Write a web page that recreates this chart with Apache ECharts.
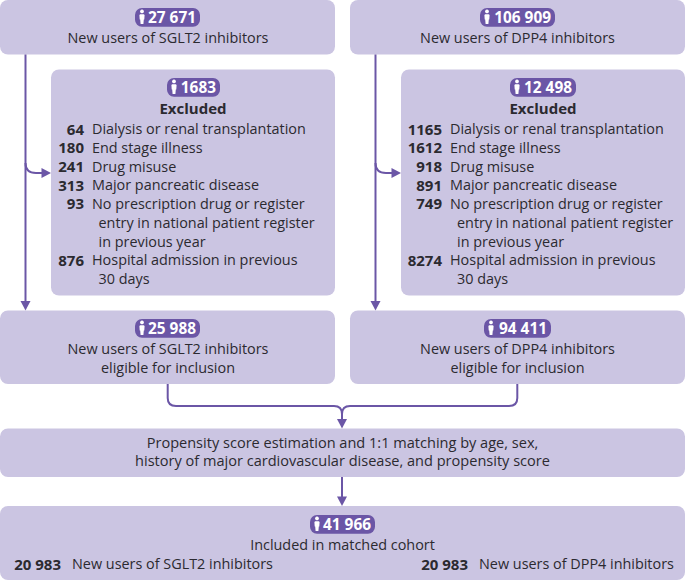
<!DOCTYPE html>
<html><head><meta charset="utf-8">
<style>html,body{margin:0;padding:0;background:#fff}#c{width:685px;height:580px}</style>
<script src="https://cdn.jsdelivr.net/npm/echarts@6/dist/echarts.min.js"></script>
</head><body><div id="c"></div>
<script>
// ---- content ----
const pillCounts = ['27 671','1683','25 988','106 909','12 498','94 411','41 966'];
const headings = ['New users of SGLT2 inhibitors','New users of DPP4 inhibitors'];
const eligibleLine = 'eligible for inclusion';
const excludedTitle = 'Excluded';
const sgltExcluded = ['64','180','241','313','93','876'];
const dppExcluded = ['1165','1612','918','891','749','8274'];
const exclusionReasons = ['Dialysis or renal transplantation','End stage illness','Drug misuse','Major pancreatic disease','No prescription drug or register','Hospital admission in previous'];
const reasonContinuations = ['entry in national patient register','in previous year','30 days'];
const propensityLines = ['Propensity score estimation and 1:1 matching by age, sex,','history of major cardiovascular disease, and propensity score'];
const cohortLine = 'Included in matched cohort';
const matchedCounts = ['20 983','20 983'];

// ---- layout ----
const FONT = '"Open Sans"', PURPLE = '#6b56a6', BOX = '#cbc5e2', INK = '#2b2a30', FS = 14.4, BS = 15;
const boxes = [[0,0,335,54.5],[350,0,685,54.5],[51,69.5,335,295.5],[401,69.5,685,295.5],
  [0,310.5,335,384],[350,310.5,685,384],[0,428.5,685,477],[0,506,685,580]];
const pills = [[135,200,8],[167,220,78],[135,200,319],[480,555,8],[510,576,78],[484,551,319],[310,375,515]];
const rowY = [128.7,147.4,166.2,184.8,203.4,259.8], contY = [222.2,241,278.6];
const texts = [];
const T = (s,x,y,al,b,col,fs) => texts.push({s,x,y,al,b,col,fs});
T(headings[0],168,37.5,'center'); T(headings[1],517.5,37.5,'center');
T(headings[0],168,348,'center'); T(eligibleLine,168,367,'center');
T(headings[1],517.5,348,'center'); T(eligibleLine,517.5,367,'center');
T(excludedTitle,193,107.5,'center',1); T(excludedTitle,543,107.5,'center',1);
[[sgltExcluded,84,92,98.5],[dppExcluded,442,450,457]].forEach(([vals,nx,tx,ix])=>{
  vals.forEach((v,i)=>{T(v,nx,rowY[i],'right',1);T(exclusionReasons[i],tx,rowY[i],'left');});
  reasonContinuations.forEach((r,i)=>T(r,ix,contY[i],'left'));
});
T(propensityLines[0],342.5,441.5,'center',0,null,14.55); T(propensityLines[1],342.5,460,'center',0,null,14.55);
T(cohortLine,342.5,544.5,'center');
T(matchedCounts[0],61,563.5,'right',1); T(headings[0],72,563.5,'left');
T(matchedCounts[1],468,563.5,'right',1); T(headings[1],479,563.5,'left');
pills.forEach((p,i)=>T(pillCounts[i],p[1]-4,p[2]+9,'right',2,'#fff'));

// connector segments: straight [x1,y1,x2,y2] or curved [x1,y1,cx,cy,x2,y2]
const paths = [
 [25.5,54.5,25.5,303],[25.5,163,25.5,173,36,173],[36,173,44,173],
 [375.5,54.5,375.5,303],[375.5,163,375.5,173,386,173],[386,173,394,173],
 [167.7,384,167.7,398],[167.7,398,167.7,406,176,406],[176,406,334,406],[334,406,342,406,342,414],
 [517.3,384,517.3,398],[517.3,398,517.3,406,509,406],[509,406,350,406],[350,406,342,406,342,414],
 [342,414,342,420],[342,477,342,499]
];
const heads = [[25.5,310.5,'d'],[375.5,310.5,'d'],[342,428.5,'d'],[342,506,'d'],[51,173,'r'],[401,173,'r']];

const sr = (data, render, z) => ({type:'custom',coordinateSystem:'cartesian2d',data:data.map((d,i)=>[i,0]),
  renderItem:render,clip:false,silent:true,z,animation:false,encode:{x:0,y:1}});

const chart = echarts.init(document.getElementById('c'),null,{renderer:'svg'});
chart.setOption({
 animation:false,
 grid:{left:0,right:0,top:0,bottom:0},
 xAxis:{type:'value',min:0,max:685,show:false},
 yAxis:{type:'value',min:0,max:580,inverse:true,show:false},
 series:[
  sr(boxes,(p,api)=>{const b=boxes[p.dataIndex],a=api.coord([b[0],b[1]]),c=api.coord([b[2],b[3]]);
    return {type:'rect',shape:{x:a[0],y:a[1],width:c[0]-a[0],height:c[1]-a[1],r:8},style:{fill:BOX}};},1),
  sr(paths,(p,api)=>{const s=paths[p.dataIndex],style={fill:'none',stroke:PURPLE,lineWidth:2};
    const a=api.coord([s[0],s[1]]);
    if(s.length===4){const b=api.coord([s[2],s[3]]);
      return {type:'line',shape:{x1:a[0],y1:a[1],x2:b[0],y2:b[1]},style};}
    const c=api.coord([s[2],s[3]]),b=api.coord([s[4],s[5]]);
    return {type:'bezierCurve',shape:{x1:a[0],y1:a[1],cpx1:c[0],cpy1:c[1],x2:b[0],y2:b[1]},style};},2),
  sr(heads,(p,api)=>{const h=heads[p.dataIndex],t=api.coord([h[0],h[1]]);
    const pts=h[2]==='d'?[[t[0],t[1]],[t[0]-5,t[1]-9.5],[t[0]+5,t[1]-9.5]]:[[t[0],t[1]],[t[0]-9.5,t[1]-5],[t[0]-9.5,t[1]+5]];
    return {type:'polygon',shape:{points:pts},style:{fill:PURPLE}};},3),
  sr(pills,(p,api)=>{const b=pills[p.dataIndex],a=api.coord([b[0],b[2]]),c=api.coord([b[1],b[2]+18.7]),ix=a[0]+7,y=a[1];
    return {type:'group',children:[
      {type:'rect',shape:{x:a[0],y:a[1],width:c[0]-a[0],height:c[1]-a[1],r:7},style:{fill:PURPLE}},
      {type:'circle',shape:{cx:ix,cy:y+3.4,r:1.9},style:{fill:'#fff'}},
      {type:'polygon',shape:{points:[[ix-2.6,y+7],[ix-1.8,y+6.2],[ix+1.8,y+6.2],[ix+2.6,y+7],[ix+2.3,y+11.5],[ix+1.8,y+11.5],[ix+1.4,y+16],[ix-1.4,y+16],[ix-1.8,y+11.5],[ix-2.3,y+11.5]]},style:{fill:'#fff'}}
    ]};},4),
  sr(texts,(p,api)=>{const t=texts[p.dataIndex],q=api.coord([t.x,t.y]);
    const size=t.fs||(t.b===2?15.4:t.b?BS:FS);
    return {type:'text',style:{text:t.s,x:q[0],y:q[1],align:t.al,verticalAlign:'middle',
      font:(t.b?'700 ':'400 ')+size+'px '+FONT,fill:t.col||INK}};},5)
 ]
});
</script></body></html>
